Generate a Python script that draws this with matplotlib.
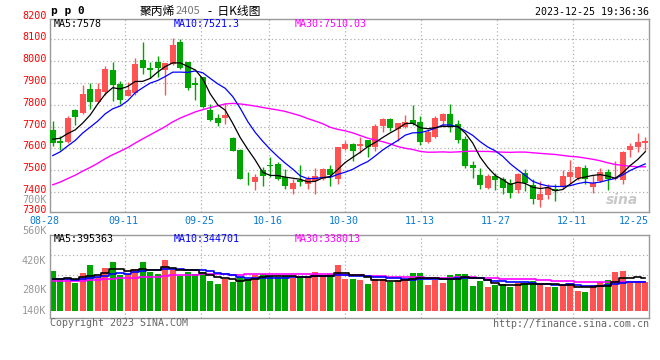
import numpy as np
import pandas as pd
import matplotlib
matplotlib.use('Agg')
import matplotlib.pyplot as plt
from matplotlib.transforms import blended_transform_factory, offset_copy

# ------------------------------
# data, 08-28 .. 12-25, 80 trading days
# ------------------------------
opens = [7683, 7633, 7630, 7774, 7761, 7874, 7814, 7858, 7961, 7897,
         7842, 7852, 8006, 7970, 7995, 7961, 7986, 8089, 7998, 7902,
         7926, 7777, 7741, 7738, 7647, 7592, 7465, 7446, 7499, 7521,
         7529, 7468, 7412, 7456, 7438, 7449, 7458, 7506, 7458, 7597,
         7620, 7611, 7638, 7605, 7703, 7733, 7688, 7699, 7732, 7723,
         7630, 7653, 7726, 7756, 7714, 7642, 7524, 7479, 7420, 7474,
         7458, 7441, 7408, 7488, 7433, 7362, 7385, 7412, 7423, 7468,
         7465, 7511, 7423, 7450, 7491, 7458, 7453, 7594, 7608, 7627]
highs = [7726, 7655, 7748, 7782, 7892, 7900, 7900, 7980, 7998, 7911,
         7905, 8014, 8089, 7998, 8023, 7994, 8108, 8100, 7998, 7929,
         7930, 7805, 7759, 7809, 7653, 7597, 7491, 7483, 7514, 7559,
         7536, 7506, 7461, 7524, 7471, 7511, 7511, 7526, 7605, 7635,
         7624, 7653, 7638, 7711, 7738, 7741, 7715, 7753, 7797, 7748,
         7688, 7748, 7764, 7802, 7732, 7658, 7544, 7511, 7483, 7488,
         7468, 7461, 7486, 7505, 7458, 7450, 7435, 7438, 7503, 7547,
         7521, 7524, 7479, 7511, 7506, 7544, 7589, 7624, 7670, 7653]
lows = [7612, 7592, 7627, 7706, 7756, 7783, 7809, 7847, 7817, 7802,
        7839, 7844, 7941, 7923, 7930, 7844, 7983, 7964, 7870, 7824,
        7786, 7726, 7703, 7711, 7586, 7458, 7430, 7411, 7426, 7468,
        7453, 7415, 7389, 7426, 7415, 7392, 7453, 7426, 7438, 7592,
        7544, 7577, 7559, 7586, 7673, 7680, 7635, 7695, 7708, 7617,
        7626, 7647, 7699, 7673, 7626, 7511, 7465, 7415, 7415, 7411,
        7389, 7374, 7397, 7405, 7347, 7329, 7367, 7359, 7412, 7442,
        7453, 7438, 7396, 7445, 7408, 7453, 7435, 7562, 7585, 7589]
closes = [7626, 7623, 7738, 7744, 7850, 7812, 7874, 7965, 7892, 7821,
          7870, 7988, 7968, 7959, 7968, 7994, 8074, 7968, 7877, 7889,
          7789, 7729, 7717, 7753, 7589, 7461, 7462, 7468, 7471, 7518,
          7458, 7426, 7443, 7446, 7458, 7471, 7505, 7476, 7605, 7620,
          7589, 7620, 7605, 7703, 7733, 7695, 7715, 7723, 7711, 7630,
          7673, 7738, 7756, 7703, 7638, 7517, 7509, 7430, 7471, 7453,
          7420, 7397, 7483, 7442, 7367, 7389, 7423, 7405, 7473, 7491,
          7514, 7461, 7441, 7491, 7458, 7464, 7585, 7609, 7630, 7635]
# volume, thousands of lots
volumes = [480, 379, 387, 335, 460, 553, 411, 520, 589, 427,
           439, 508, 589, 472, 444, 613, 492, 420, 468, 444,
           472, 359, 323, 383, 351, 403, 379, 432, 444, 420,
           408, 420, 391, 403, 411, 468, 403, 444, 553, 383,
           383, 371, 327, 383, 383, 343, 371, 371, 460, 460,
           311, 371, 339, 432, 444, 444, 299, 359, 287, 311,
           323, 290, 331, 331, 359, 323, 290, 290, 311, 331,
           242, 230, 311, 351, 371, 468, 480, 331, 359, 347]

# days before the window, estimated so the MA lines start where they do
prior_closes = [7250, 7260, 7275, 7290, 7300, 7310, 7330, 7340, 7350, 7360,
                7370, 7385, 7400, 7410, 7420, 7430, 7440, 7455, 7465, 7480,
                7450, 7470, 7490, 7510, 7540, 7600, 7630, 7660, 7694]
prior_volumes = [340, 355, 330, 360, 345, 350, 335, 365, 340, 350,
                 355, 345, 340, 360, 350, 345, 355, 340, 350, 350,
                 370, 390, 380, 375, 385, 350, 360, 345, 365]

tick_dates = ['08-28', '09-11', '09-25', '10-16', '10-30', '11-13', '11-27', '12-11', '12-25']
tick_idx = [0, 10, 20, 29, 39, 49, 59, 69, 79]
price_levels = [7300, 7400, 7500, 7600, 7700, 7800, 7900, 8000, 8100, 8200]

# ------------------------------
# moving averages
# ------------------------------
def ma(prior, values, n):
    s = pd.Series(prior + values, dtype=float)
    return s.rolling(n).mean().values[len(prior):]

ma5, ma10, ma30 = [ma(prior_closes, closes, n) for n in (5, 10, 30)]
vol = np.array(volumes) * 1000.0
vma5, vma10, vma30 = [ma(prior_volumes, volumes, n) * 1000.0 for n in (5, 10, 30)]

o = np.array(opens); c = np.array(closes)
h = np.array(highs); l = np.array(lows)
x = np.arange(len(closes))

RED = '#ff5252'
GREEN = '#00a600'
colors = np.where(c >= o, RED, GREEN)

W, H = 660, 360
fig = plt.figure(figsize=(W / 100, H / 100), dpi=100)
mono = 'DejaVu Sans Mono'
cjk = ['Noto Sans CJK SC', 'DejaVu Sans']

def ftext(px, py, s, **kw):
    fig.text(px / W, 1 - py / H, s, **kw)

# sina draws the date grid on a slightly wider pitch than the candles
grid_x = [i * 7.6 / 7.5 - 0.49 for i in tick_idx]

# ------------------------------
# price panel
# ------------------------------
ax = fig.add_axes([50 / W, 1 - 212 / H, 599 / W, 193 / H])
ax.set_xlim(-0.36, 79.5)
ax.set_ylim(7308, 8194)

for v in price_levels[1:-1]:
    ax.axhline(v, color='#b0b0b0', lw=0.9, ls=(0, (1, 2)), zorder=0)
for gx in grid_x[1:-1]:
    ax.axvline(gx, color='#b0b0b0', lw=0.9, ls=(0, (1, 2)), zorder=0)

body = np.maximum(np.abs(c - o), 4)
ax.vlines(x, l, h, colors=colors, lw=1, zorder=2)
ax.bar(x, body, bottom=np.minimum(o, c), width=0.82, color=colors, zorder=3)

ax.plot(x, ma30, color='#ff00ff', lw=1, zorder=4)
ax.plot(x, ma10, color='#0000ff', lw=0.9, zorder=4)
ax.plot(x, ma5, color='black', lw=0.9, zorder=5)

ax.set_xticks([]); ax.set_yticks([])
for sp in ax.spines.values():
    sp.set_color('#999999'); sp.set_linewidth(1)

# price labels, sina puts them a couple of pixels above the grid lines
ytrans = offset_copy(blended_transform_factory(ax.transAxes, ax.transData), fig=fig, y=1.5, units='points')
low_trans = offset_copy(blended_transform_factory(ax.transAxes, ax.transData), fig=fig, y=2.6, units='points')
for v in price_levels:
    ax.text(-0.006, v, str(v), transform=low_trans if v == 7300 else ytrans,
            ha='right', va='center', color='red', fontsize=7.3, family=mono, clip_on=False)

xtrans = blended_transform_factory(ax.transData, ax.transAxes)
for i, (gx, d) in enumerate(zip(grid_x, tick_dates)):
    if i == 0:
        ax.text(gx - 0.65, -0.047, d, transform=xtrans, ha='center', va='center',
                color='#0a7ad0', fontsize=7.2, family=mono)
    elif i == len(tick_dates) - 1:
        ax.text(1.0, -0.047, d, transform=ax.transAxes, ha='right', va='center',
                color='#0a7ad0', fontsize=7.2, family=mono)
    else:
        ax.text(gx - 0.2, -0.047, d, transform=xtrans, ha='center', va='center',
                color='#0a7ad0', fontsize=7.2, family=mono)

ax.text(0.955, 0.06, 'sina', transform=ax.transAxes, ha='center', va='center',
        color='#c8c8c8', fontsize=10, fontweight='bold', style='italic', zorder=1)

# ------------------------------
# volume panel
# ------------------------------
ax2 = fig.add_axes([50 / W, 1 - 318 / H, 599 / W, 83.3 / H])
ax2.set_xlim(-0.36, 79.5)
ax2.set_ylim(-88300, 919600)
for v in (181500, 428000, 674000):
    ax2.axhline(v, color='#b0b0b0', lw=0.9, ls=(0, (1, 2)), zorder=0)
for gx in grid_x[1:-1]:
    ax2.axvline(gx, color='#b0b0b0', lw=0.9, ls=(0, (1, 2)), zorder=0)

ax2.bar(x, vol, width=0.84, color=colors, zorder=2)
ax2.step(x, vma30, where='mid', color='#ff00ff', lw=1.2, zorder=3)
ax2.step(x, vma10, where='mid', color='#0000ff', lw=1.2, zorder=3)
ax2.step(x, vma5, where='mid', color='black', lw=1.2, zorder=4)
ax2.set_xticks([]); ax2.set_yticks([])
for sp in ax2.spines.values():
    sp.set_color('#999999'); sp.set_linewidth(1)

for s, py in [('560K', 231), ('420K', 261), ('280K', 290), ('140K', 311), ('700K', 200)]:
    ftext(46.5, py, s, ha='right', va='center', color='#999999', fontsize=7.3, family=mono)

# ------------------------------
# header / footer texts
# ------------------------------
ftext(51, 11, 'p p 0', ha='left', va='center', fontsize=8, family=mono, fontweight='bold')
ftext(140, 11, '聚丙烯', ha='left', va='center', fontsize=8.5, family=cjk)
ftext(176, 11.5, '2405', ha='left', va='center', fontsize=8, family=cjk, color='#777777')
ftext(208, 11, '-  日K线图', ha='left', va='center', fontsize=8.5, family=cjk)
ftext(649, 12, '2023-12-25 19:36:36', ha='right', va='center', fontsize=7.2, family=mono)

ftext(54, 24, 'MA5:%d' % 7578, ha='left', va='center', fontsize=7.2, family=mono)
ftext(174, 24, 'MA10:7521.3', ha='left', va='center', fontsize=7.2, family=mono, color='#0000ff')
ftext(295, 24, 'MA30:7510.03', ha='left', va='center', fontsize=7.2, family=mono, color='#ff00ff')

ftext(54, 238.5, 'MA5:395363', ha='left', va='center', fontsize=7.2, family=mono)
ftext(174, 238.5, 'MA10:344701', ha='left', va='center', fontsize=7.2, family=mono, color='#0000ff')
ftext(295, 238.5, 'MA30:338013', ha='left', va='center', fontsize=7.2, family=mono, color='#ff00ff')

ftext(50, 323.5, 'Copyright 2023 SINA.COM', ha='left', va='center', fontsize=7.2, family=mono, color='#666666')
ftext(649, 324, 'http://finance.sina.com.cn', ha='right', va='center', fontsize=7.2, family=mono, color='#666666')

fig.savefig('out.png', dpi=100)
